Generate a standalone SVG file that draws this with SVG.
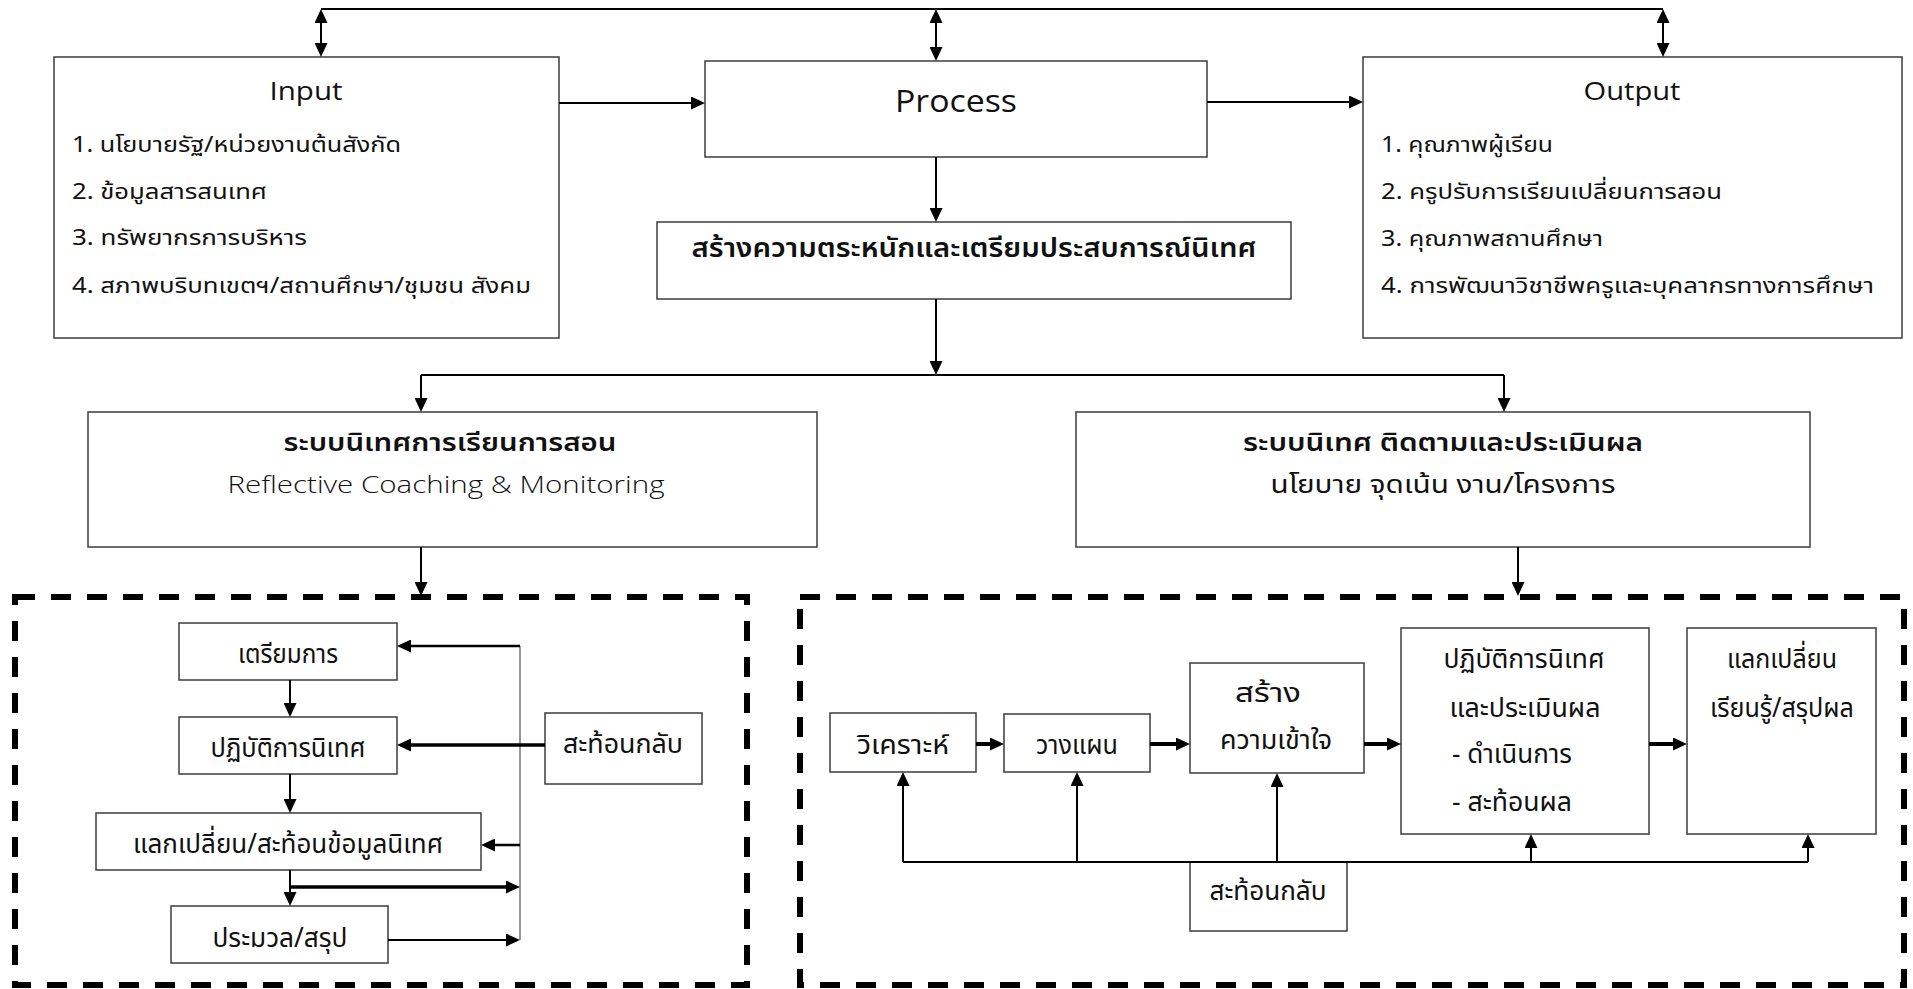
<svg xmlns="http://www.w3.org/2000/svg" width="1913" height="989" viewBox="0 0 1913 989">
<style>
.bg{fill:#fff}
.box{fill:#fff;stroke:#3c3c3c;stroke-width:1.5}
.dash{fill:none;stroke:#000;stroke-width:6;stroke-dasharray:20 16}
.th{font-family:'Noto Sans Thai','Noto Sans Thai UI','Loma','Garuda','Norasi','Noto Sans','DejaVu Sans',sans-serif;fill:#111}
.lat{font-family:'Open Sans','Noto Sans','Liberation Sans',sans-serif;fill:#111}
.c{text-anchor:middle}
.b{font-weight:600}
.s1{font-size:22px}
.s2{font-size:27px}
.st{font-size:24px}
.conn path{fill:none;stroke:#000;stroke-width:2}
.conn .k{stroke-width:3.5}
.conn .g{stroke:#777;stroke-width:1.5}
</style>
<defs>
<marker id="ah" markerUnits="userSpaceOnUse" markerWidth="14" markerHeight="13" refX="10" refY="6.5" orient="auto-start-reverse">
<path d="M0,0 L14,6.5 L0,13 z" fill="#000"/>
</marker>
</defs>
<rect class="bg" x="0" y="0" width="1913" height="989"/>

<g id="input">
<rect class="box" x="54" y="57" width="505" height="281"/>
<text class="lat c" x="306" y="100" font-size="26" textLength="73" lengthAdjust="spacingAndGlyphs">Input</text>
<text class="th s1" x="72" y="152" textLength="329" lengthAdjust="spacingAndGlyphs">1. นโยบายรัฐ/หน่วยงานต้นสังกัด</text>
<text class="th s1" x="72" y="199" textLength="195" lengthAdjust="spacingAndGlyphs">2. ข้อมูลสารสนเทศ</text>
<text class="th s1" x="72" y="245" textLength="235" lengthAdjust="spacingAndGlyphs">3. ทรัพยากรการบริหาร</text>
<text class="th s1" x="72" y="293" textLength="459" lengthAdjust="spacingAndGlyphs">4. สภาพบริบทเขตฯ/สถานศึกษา/ชุมชน สังคม</text>
</g>

<g id="process">
<rect class="box" x="705" y="61" width="502" height="96"/>
<text class="lat c" x="956" y="112" font-size="31" textLength="122" lengthAdjust="spacingAndGlyphs">Process</text>
</g>

<g id="output">
<rect class="box" x="1363" y="57" width="539" height="281"/>
<text class="lat c" x="1632" y="100" font-size="26" textLength="97" lengthAdjust="spacingAndGlyphs">Output</text>
<text class="th s1" x="1381" y="152" textLength="172" lengthAdjust="spacingAndGlyphs">1. คุณภาพผู้เรียน</text>
<text class="th s1" x="1381" y="199" textLength="341" lengthAdjust="spacingAndGlyphs">2. ครูปรับการเรียนเปลี่ยนการสอน</text>
<text class="th s1" x="1381" y="246" textLength="222" lengthAdjust="spacingAndGlyphs">3. คุณภาพสถานศึกษา</text>
<text class="th s1" x="1381" y="293" textLength="493" lengthAdjust="spacingAndGlyphs">4. การพัฒนาวิชาชีพครูและบุคลากรทางการศึกษา</text>
</g>

<g id="awareness">
<rect class="box" x="657" y="222" width="634" height="77"/>
<text class="th c b" x="974" y="257" font-size="27" textLength="565" lengthAdjust="spacingAndGlyphs">สร้างความตระหนักและเตรียมประสบการณ์นิเทศ</text>
</g>

<g id="teaching-system">
<rect class="box" x="88" y="412" width="729" height="135"/>
<text class="th c b st" x="450" y="451" textLength="333" lengthAdjust="spacingAndGlyphs">ระบบนิเทศการเรียนการสอน</text>
<text class="lat c" x="446" y="493" font-size="23" font-weight="300" textLength="437" lengthAdjust="spacingAndGlyphs">Reflective Coaching &amp; Monitoring</text>
</g>

<g id="monitoring-system">
<rect class="box" x="1076" y="412" width="734" height="135"/>
<text class="th c b st" x="1443" y="451" textLength="400" lengthAdjust="spacingAndGlyphs">ระบบนิเทศ ติดตามและประเมินผล</text>
<text class="th c" x="1443" y="493" font-size="24" textLength="345" lengthAdjust="spacingAndGlyphs">นโยบาย จุดเน้น งาน/โครงการ</text>
</g>

<g id="left-frame">
<rect class="dash" x="15" y="597" width="732" height="388"/>
</g>
<g id="right-frame">
<rect class="dash" x="800" y="597" width="1104" height="388"/>
</g>

<g id="l-prepare">
<rect class="box" x="179" y="623" width="218" height="57"/>
<text class="th c s2" x="288" y="663" textLength="100" lengthAdjust="spacingAndGlyphs">เตรียมการ</text>
</g>
<g id="l-practice">
<rect class="box" x="179" y="717" width="218" height="57"/>
<text class="th c s2" x="288" y="757" textLength="155" lengthAdjust="spacingAndGlyphs">ปฏิบัติการนิเทศ</text>
</g>
<g id="l-exchange">
<rect class="box" x="96" y="813" width="385" height="57"/>
<text class="th c s2" x="288" y="853" textLength="310" lengthAdjust="spacingAndGlyphs">แลกเปลี่ยน/สะท้อนข้อมูลนิเทศ</text>
</g>
<g id="l-summary">
<rect class="box" x="171" y="906" width="217" height="57"/>
<text class="th c s2" x="280" y="947" textLength="135" lengthAdjust="spacingAndGlyphs">ประมวล/สรุป</text>
</g>
<g id="l-reflect">
<rect class="box" x="545" y="713" width="157" height="71"/>
<text class="th c s2" x="623" y="753" textLength="120" lengthAdjust="spacingAndGlyphs">สะท้อนกลับ</text>
</g>

<g id="r-analyze">
<rect class="box" x="830" y="713" width="146" height="59"/>
<text class="th c s2" x="903" y="754" textLength="92" lengthAdjust="spacingAndGlyphs">วิเคราะห์</text>
</g>
<g id="r-plan">
<rect class="box" x="1004" y="714" width="146" height="58"/>
<text class="th c s2" x="1077" y="754" textLength="82" lengthAdjust="spacingAndGlyphs">วางแผน</text>
</g>
<g id="r-understand">
<rect class="box" x="1190" y="663" width="174" height="110"/>
<text class="th c s2" x="1268" y="702" textLength="66" lengthAdjust="spacingAndGlyphs">สร้าง</text>
<text class="th c s2" x="1276" y="749" textLength="112" lengthAdjust="spacingAndGlyphs">ความเข้าใจ</text>
</g>
<g id="r-practice">
<rect class="box" x="1401" y="628" width="248" height="206"/>
<text class="th c s2" x="1524" y="668" textLength="161" lengthAdjust="spacingAndGlyphs">ปฏิบัติการนิเทศ</text>
<text class="th c s2" x="1525" y="717" textLength="151" lengthAdjust="spacingAndGlyphs">และประเมินผล</text>
<text class="th s2" x="1452" y="763" textLength="120" lengthAdjust="spacingAndGlyphs">- ดำเนินการ</text>
<text class="th s2" x="1452" y="811" textLength="120" lengthAdjust="spacingAndGlyphs">- สะท้อนผล</text>
</g>
<g id="r-exchange">
<rect class="box" x="1687" y="628" width="189" height="206"/>
<text class="th c s2" x="1782" y="668" textLength="110" lengthAdjust="spacingAndGlyphs">แลกเปลี่ยน</text>
<text class="th c s2" x="1782" y="717" textLength="144" lengthAdjust="spacingAndGlyphs">เรียนรู้/สรุปผล</text>
</g>
<g id="r-reflect">
<rect class="box" x="1190" y="862" width="157" height="69"/>
<text class="th c s2" x="1268" y="900" textLength="117" lengthAdjust="spacingAndGlyphs">สะท้อนกลับ</text>
</g>

<g class="conn" id="connectors">
<path d="M321,9 H1663"/>
<path d="M321,13 V53" marker-start="url(#ah)" marker-end="url(#ah)"/>
<path d="M936,13 V57" marker-start="url(#ah)" marker-end="url(#ah)"/>
<path d="M1663,13 V53" marker-start="url(#ah)" marker-end="url(#ah)"/>
<path d="M559,103 H701" marker-end="url(#ah)"/>
<path d="M1207,102 H1359" marker-end="url(#ah)"/>
<path d="M936,157 V218" marker-end="url(#ah)"/>
<path d="M936,299 V371" marker-end="url(#ah)"/>
<path d="M421,375 H1504"/>
<path d="M421,375 V408" marker-end="url(#ah)"/>
<path d="M1504,375 V408" marker-end="url(#ah)"/>
<path d="M421,547 V592" marker-end="url(#ah)"/>
<path d="M1518,547 V592" marker-end="url(#ah)"/>

<path d="M290,680 V713" marker-end="url(#ah)"/>
<path d="M290,774 V809" marker-end="url(#ah)"/>
<path d="M290,870 V902" marker-end="url(#ah)"/>
<path class="g" d="M520,646 V940"/>
<path d="M520,646 H401" style="stroke-width:2.5" marker-end="url(#ah)"/>
<path class="k" d="M545,745 H401" marker-end="url(#ah)"/>
<path d="M520,845 H485" style="stroke-width:2.5" marker-end="url(#ah)"/>
<path class="k" d="M290,887 H516" marker-end="url(#ah)"/>
<path d="M388,940 H516" marker-end="url(#ah)"/>

<path d="M976,744 H1000" style="stroke-width:4" marker-end="url(#ah)"/>
<path d="M1150,744 H1186" style="stroke-width:4" marker-end="url(#ah)"/>
<path d="M1364,744 H1397" style="stroke-width:4" marker-end="url(#ah)"/>
<path d="M1649,744 H1683" style="stroke-width:4" marker-end="url(#ah)"/>
<path d="M903,862 H1808"/>
<path d="M903,862 V776" marker-end="url(#ah)"/>
<path d="M1077,862 V776" marker-end="url(#ah)"/>
<path d="M1277,862 V777" marker-end="url(#ah)"/>
<path d="M1531,862 V838" marker-end="url(#ah)"/>
<path d="M1808,862 V838" marker-end="url(#ah)"/>
</g>
</svg>
